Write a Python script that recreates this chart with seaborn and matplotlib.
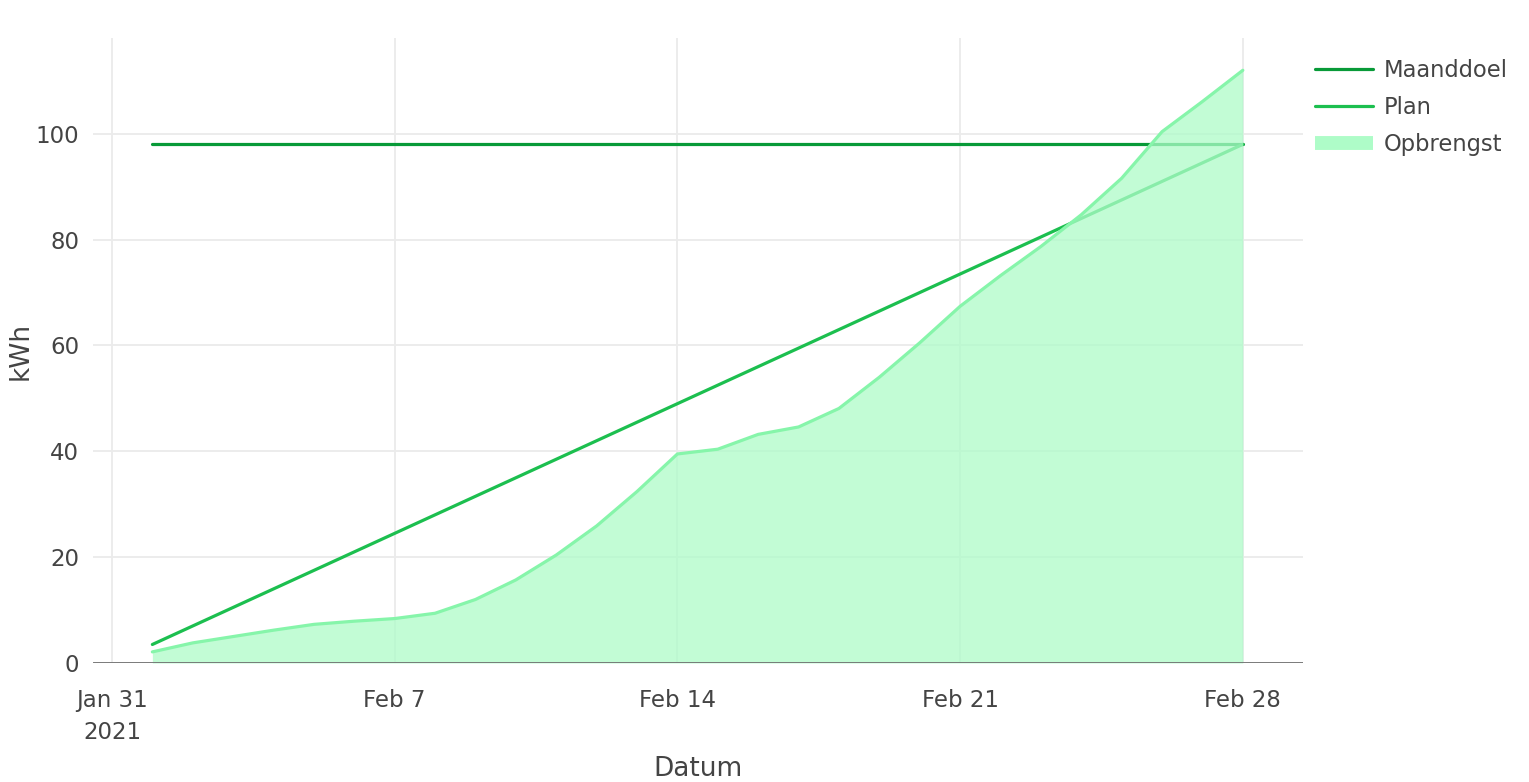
import matplotlib
matplotlib.use("Agg")
import matplotlib.pyplot as plt
from matplotlib.lines import Line2D
import seaborn as sns
import pandas as pd

# ---- data ----
dates = pd.date_range("2021-02-01", "2021-02-28", freq="D")
maanddoel = [98] * 28
plan = [3.5, 7.0, 10.5, 14.0, 17.5, 21.0, 24.5, 28.0, 31.5, 35.0, 38.5, 42.0, 45.5, 49.0,
        52.5, 56.0, 59.5, 63.0, 66.5, 70.0, 73.5, 77.0, 80.5, 84.0, 87.5, 91.0, 94.5, 98.0]
opbrengst = [2.1, 3.8, 5.0, 6.2, 7.3, 7.9, 8.4, 9.4, 12.0, 15.7, 20.4, 25.9, 32.4, 39.5,
             40.4, 43.2, 44.6, 48.1, 54.0, 60.5, 67.4, 73.2, 78.7, 84.7, 91.6, 100.4, 106.1, 112.0]
tick_dates = ["2021-01-31", "2021-02-07", "2021-02-14", "2021-02-21", "2021-02-28"]
tick_labels = ["Jan 31\n2021", "Feb 7", "Feb 14", "Feb 21", "Feb 28"]
y_ticks = [0, 20, 40, 60, 80, 100]

df = pd.DataFrame({"Datum": dates, "Maanddoel": maanddoel, "Plan": plan, "Opbrengst": opbrengst})

c_doel = "#089a38"
c_plan = "#1cbf4f"
c_opb_line = "#86f5aa"
c_opb_fill = "#aefcc8"
txt = "#444444"

sns.set_style("white")
plt.rcParams["font.family"] = ["DejaVu Sans"]

W, H = 1529, 782
fig = plt.figure(figsize=(W / 100, H / 100), dpi=100)
ax = fig.add_axes([93 / W, (H - 663) / H, (1303 - 93) / W, (663 - 38) / H])

sns.lineplot(data=df, x="Datum", y="Maanddoel", ax=ax, color=c_doel, lw=2.3, zorder=3)
sns.lineplot(data=df, x="Datum", y="Plan", ax=ax, color=c_plan, lw=2.3, zorder=3)
ax.fill_between(df["Datum"], 0, df["Opbrengst"], color=c_opb_fill, alpha=0.75, lw=0, zorder=4)
sns.lineplot(data=df, x="Datum", y="Opbrengst", ax=ax, color=c_opb_line, lw=2.3, zorder=5)

x0 = pd.Timestamp("2021-01-31") - pd.Timedelta(hours=0.47 * 24)
x1 = pd.Timestamp("2021-02-28") + pd.Timedelta(hours=1.49 * 24)
ax.set_xlim(x0, x1)
ax.set_ylim(0, 118.1)

ax.set_xticks([pd.Timestamp(t) for t in tick_dates])
ax.set_xticklabels(tick_labels, fontsize=16.5, color=txt, linespacing=1.5)
ax.set_yticks(y_ticks)
ax.set_yticklabels([str(v) for v in y_ticks], fontsize=16.5, color=txt)
ax.tick_params(axis="x", length=0, pad=19)
ax.tick_params(axis="y", length=0, pad=10)

ax.grid(True, color="#ebebeb", lw=1.3, zorder=0)
ax.set_axisbelow(True)
for s in ax.spines.values():
    s.set_visible(False)
ax.axhline(0, color="#707070", lw=2.0, zorder=6)

ax.set_xlabel("Datum", fontsize=19, color=txt, labelpad=8)
ax.set_ylabel("kWh", fontsize=19, color=txt)
ax.yaxis.label.set_va("center")
ax.yaxis.set_label_coords((21 - 93) / (1303 - 93), 0.5)

handles = [
    Line2D([0], [0], color=c_doel, lw=2.3),
    Line2D([0], [0], color=c_plan, lw=2.3),
    Line2D([0], [0], color=c_opb_fill, lw=10, solid_capstyle="butt"),
]
leg = fig.legend(handles, ["Maanddoel", "Plan", "Opbrengst"],
                 loc="upper left", bbox_to_anchor=(1306 / W, (H - 50) / H),
                 frameon=False, fontsize=16.3, handlelength=2.55, handletextpad=0.5,
                 labelspacing=0.62, borderaxespad=0)
for t in leg.get_texts():
    t.set_color(txt)

fig.savefig("out.png", dpi=100, facecolor="white")
